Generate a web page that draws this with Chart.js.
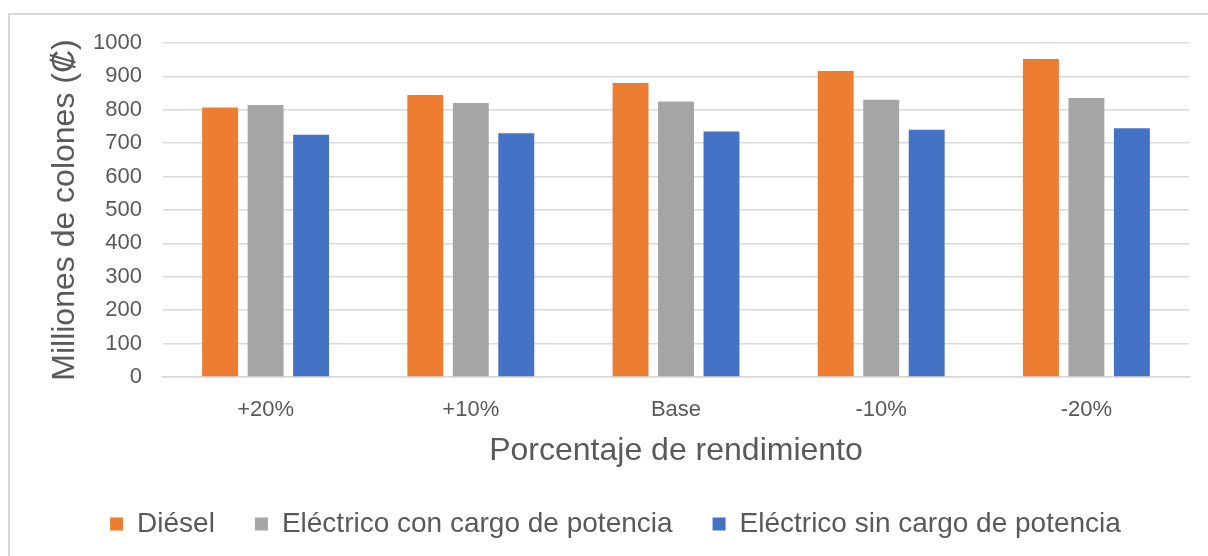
<!DOCTYPE html>
<html>
<head>
<meta charset="utf-8">
<script src="https://cdn.jsdelivr.net/npm/chart.js@4.4.1/dist/chart.umd.min.js"></script>
<style>
  html, body { margin: 0; padding: 0; background: #ffffff; }
  #wrap { position: relative; width: 1208px; height: 556px; overflow: hidden; }
  #frame { position: absolute; left: 8px; top: 13px; width: 1220px; height: 560px;
           border: 2px solid #d9d9d9; box-sizing: border-box; }
  canvas { position: absolute; left: 0; top: 0; }
</style>
</head>
<body>
<div id="wrap">
  <div id="frame"></div>
  <canvas id="chart" width="1208" height="556"></canvas>
</div>
<script>
// Cost scenarios by fuel-efficiency change (millions of colones)
const categories = ['+20%', '+10%', 'Base', '-10%', '-20%'];
const diesel = [807, 844, 880, 916, 952];
const electricWithDemand = [814, 820, 825, 830, 835];
const electricNoDemand = [725, 730, 735, 740, 745];
const yTicks = [0, 100, 200, 300, 400, 500, 600, 700, 800, 900, 1000];

const textColor = '#595959';
const gridColor = '#d9d9d9';
const fontFamily = '"Liberation Sans", Arial, sans-serif';

new Chart(document.getElementById('chart'), {
  type: 'bar',
  data: {
    labels: categories,
    datasets: [
      { label: 'Diésel', data: diesel, backgroundColor: '#ED7D31' },
      { label: 'Eléctrico con cargo de potencia', data: electricWithDemand, backgroundColor: '#A5A5A5' },
      { label: 'Eléctrico sin cargo de potencia', data: electricNoDemand, backgroundColor: '#4472C4' }
    ]
  },
  options: {
    responsive: false,
    animation: false,
    devicePixelRatio: 1,
    layout: { padding: { left: 42, right: 19, top: 43, bottom: 8 } },
    datasets: { bar: { categoryPercentage: 0.665, barPercentage: 0.79 } },
    plugins: {
      tooltip: { enabled: false },
      legend: {
        position: 'bottom',
        labels: {
          color: textColor,
          font: { family: fontFamily, size: 28 },
          boxWidth: 13,
          boxHeight: 13,
          padding: 40
        }
      }
    },
    scales: {
      x: {
        grid: { display: false, drawTicks: false },
        border: { display: true, color: gridColor, width: 1.5 },
        ticks: { color: textColor, font: { family: fontFamily, size: 22 }, padding: 20 },
        title: {
          display: true,
          text: 'Porcentaje de rendimiento',
          color: textColor,
          font: { family: fontFamily, size: 32 },
          padding: { top: 4, bottom: 0 }
        },
        afterFit: (scale) => { scale.height = 93; }
      },
      y: {
        min: 0,
        max: 1000,
        afterBuildTicks: (scale) => { scale.ticks = yTicks.map(v => ({ value: v })); },
        grid: { color: gridColor, lineWidth: 1.5, drawTicks: false },
        border: { display: false },
        ticks: {
          color: textColor,
          font: { family: fontFamily, size: 22 },
          padding: 21,
          callback: (v) => String(v)
        },
        title: {
          display: true,
          text: 'Milliones de colones (₡)',
          color: textColor,
          font: { family: fontFamily, size: 32 }
        },
        afterFit: (scale) => { scale.width = 121; }
      }
    }
  }
});
</script>
</body>
</html>
